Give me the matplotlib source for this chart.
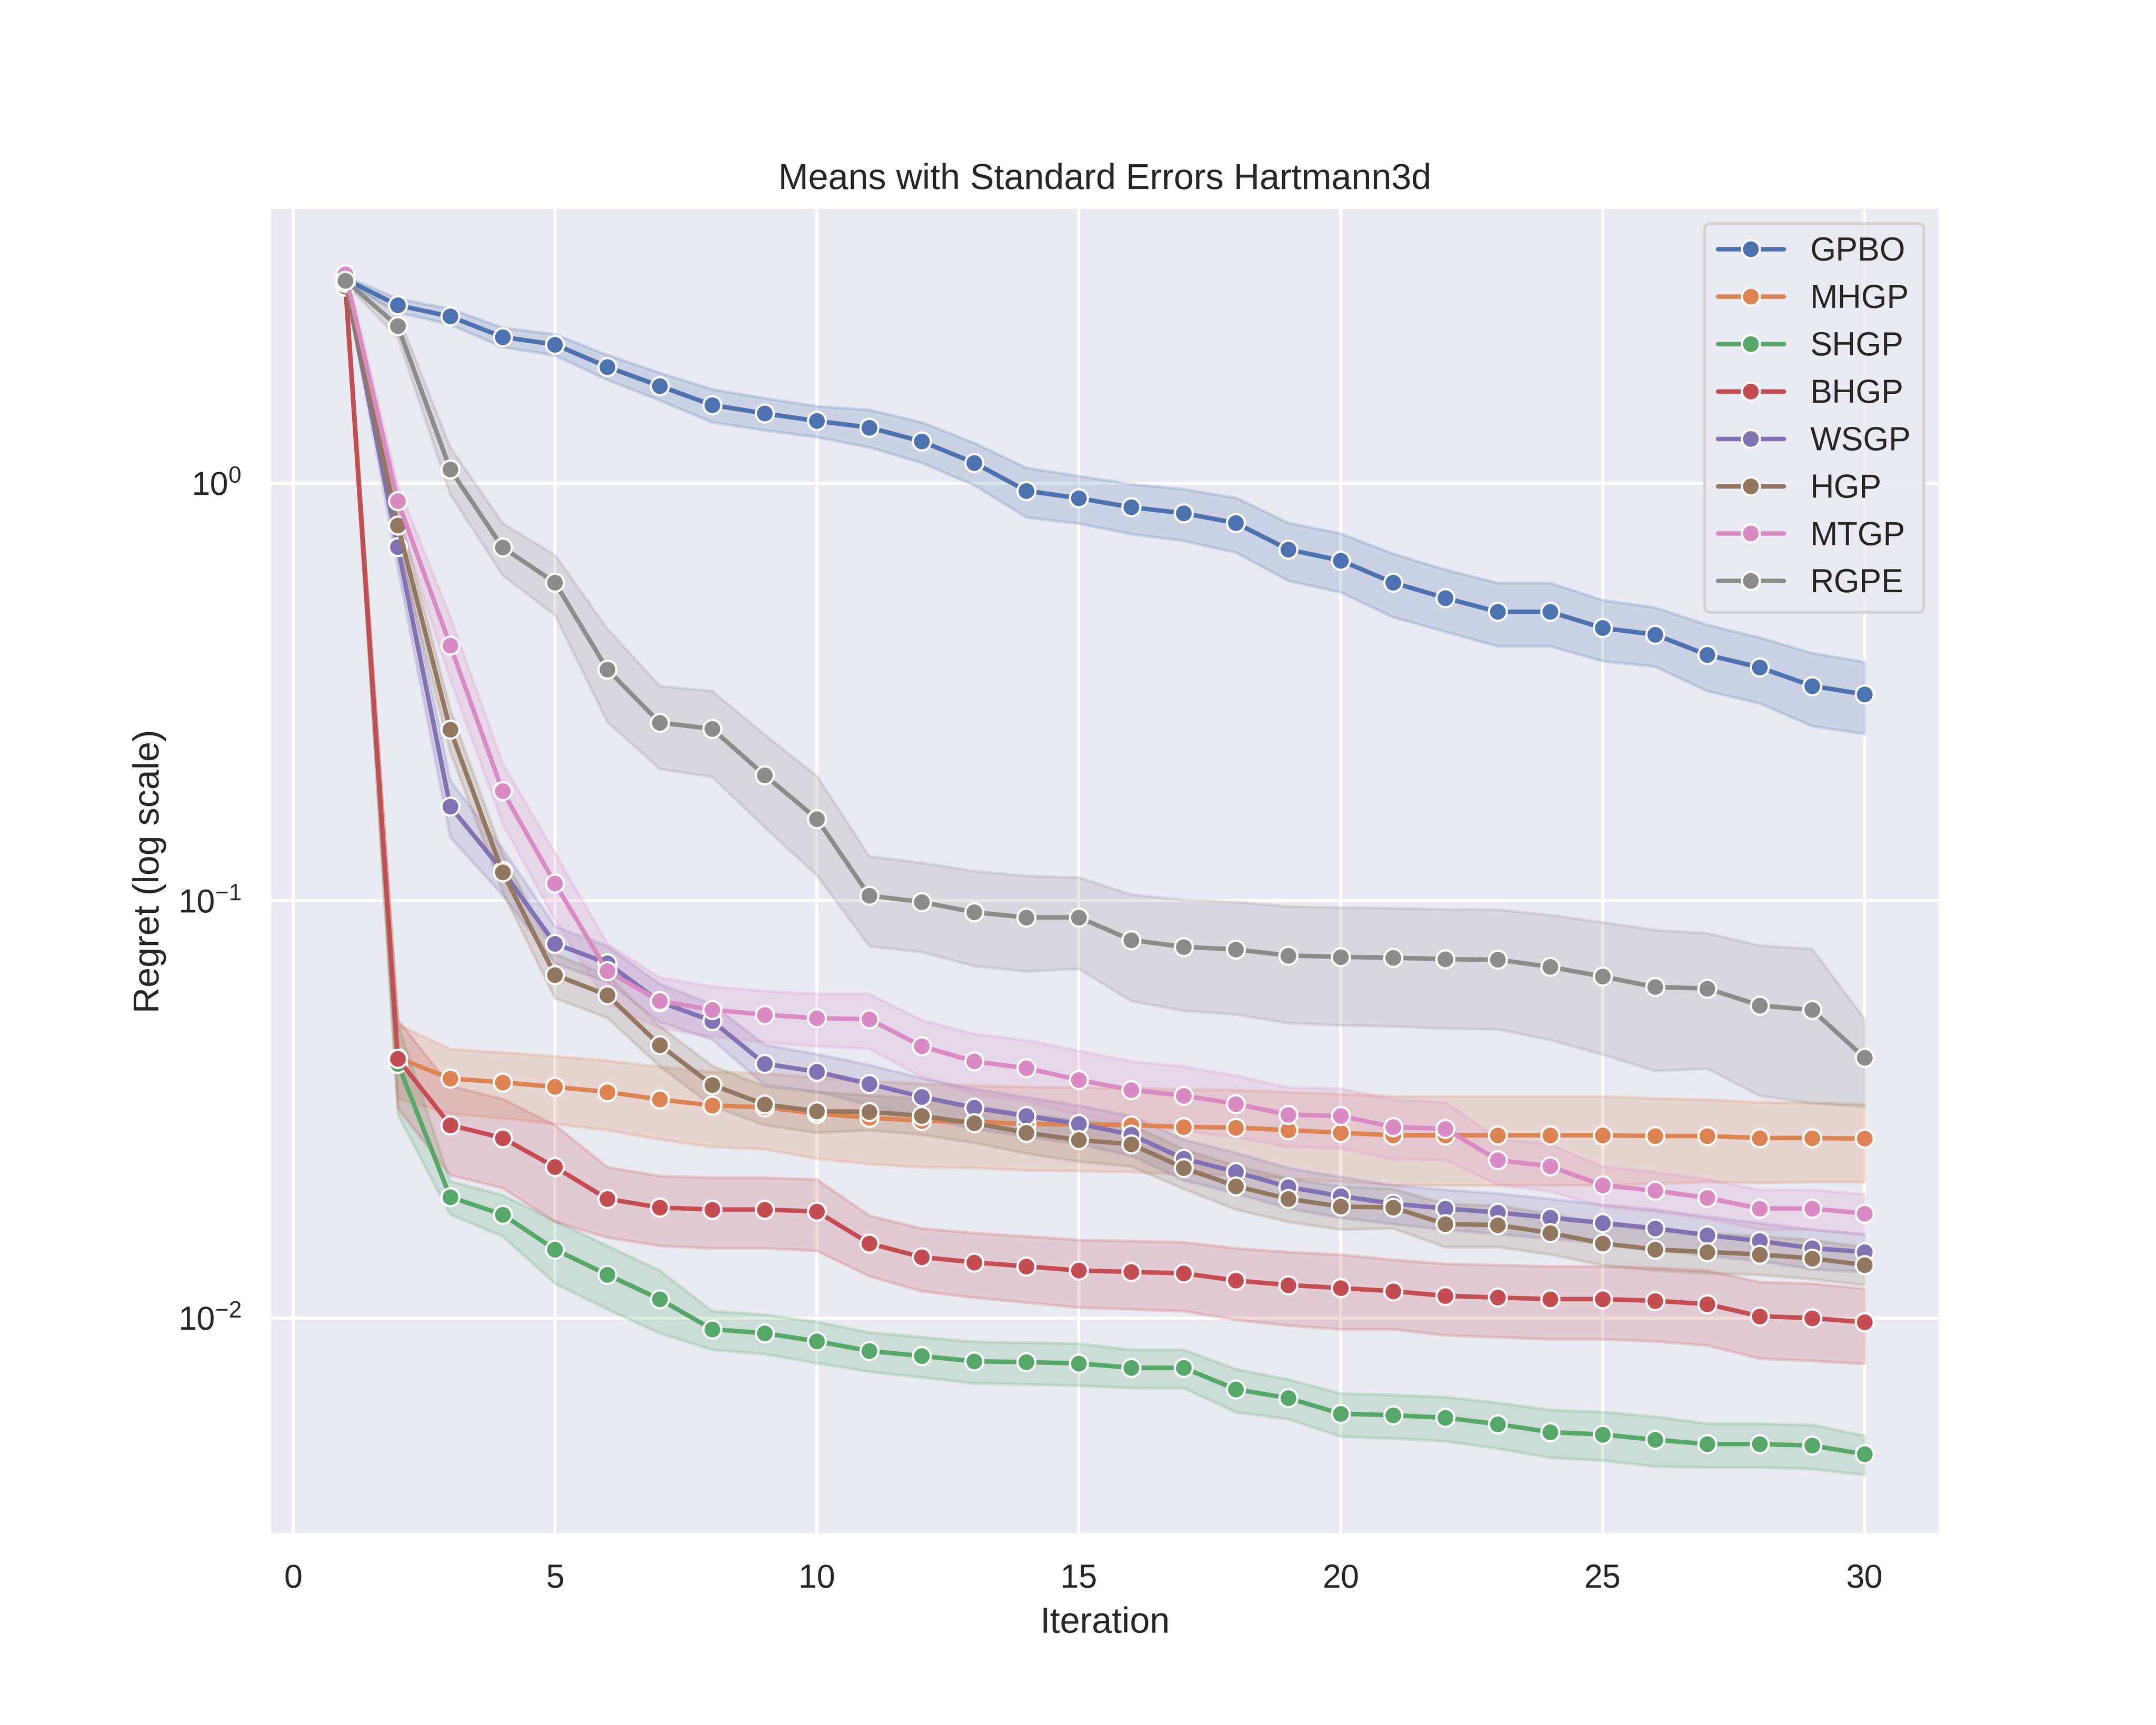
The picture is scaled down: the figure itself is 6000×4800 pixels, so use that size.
import numpy as np
import matplotlib
matplotlib.use("Agg")
import matplotlib.pyplot as plt
import seaborn as sns

# iterations and method names
iterations = list(range(1, 31))
methods = ["GPBO", "MHGP", "SHGP", "BHGP", "WSGP", "HGP", "MTGP", "RGPE"]

# mean regret per method
gpbo_mean = [3.08, 2.67, 2.51, 2.24, 2.15, 1.90, 1.71, 1.54, 1.47, 1.41,
             1.36, 1.26, 1.12, 0.959, 0.921, 0.876, 0.848, 0.803, 0.694, 0.653,
             0.578, 0.531, 0.492, 0.492, 0.450, 0.434, 0.388, 0.362, 0.327, 0.312]
mhgp_mean = [3.00, 0.0420, 0.0375, 0.0367, 0.0358, 0.0348, 0.0334, 0.0323, 0.0320, 0.0309,
             0.0302, 0.0297, 0.0295, 0.0292, 0.0291, 0.0290, 0.0287, 0.0286, 0.0282, 0.0278,
             0.0274, 0.0274, 0.0274, 0.0274, 0.0274, 0.0273, 0.0273, 0.0270, 0.0270, 0.0269]
shgp_mean = [3.00, 0.0407, 0.0195, 0.0177, 0.0146, 0.0127, 0.0111, 0.0094, 0.0092, 0.0088,
             0.00834, 0.00811, 0.00788, 0.00784, 0.00779, 0.00760, 0.00760, 0.00675, 0.00643, 0.00590,
             0.00585, 0.00577, 0.00557, 0.00533, 0.00526, 0.00511, 0.00499, 0.00499, 0.00495, 0.00472]
bhgp_mean = [2.96, 0.0418, 0.0290, 0.0270, 0.0230, 0.0193, 0.0184, 0.0182, 0.0182, 0.0180,
             0.0151, 0.0140, 0.0136, 0.0133, 0.0130, 0.0129, 0.0128, 0.0123, 0.0120, 0.0118,
             0.0116, 0.0113, 0.0112, 0.0111, 0.0111, 0.0110, 0.0108, 0.0101, 0.0100, 0.00977]
wsgp_mean = [3.03, 0.703, 0.168, 0.118, 0.0788, 0.0709, 0.0572, 0.0515, 0.0407, 0.0389,
             0.0364, 0.0339, 0.0319, 0.0305, 0.0292, 0.0275, 0.0241, 0.0224, 0.0206, 0.0196,
             0.0188, 0.0183, 0.0179, 0.0174, 0.0169, 0.0164, 0.0158, 0.0153, 0.0147, 0.0144]
hgp_mean = [3.02, 0.792, 0.257, 0.117, 0.0664, 0.0594, 0.0451, 0.0362, 0.0325, 0.0313,
            0.0312, 0.0305, 0.0293, 0.0278, 0.0267, 0.0261, 0.0229, 0.0207, 0.0193, 0.0185,
            0.0184, 0.0168, 0.0167, 0.0160, 0.0151, 0.0146, 0.0144, 0.0142, 0.0139, 0.0134]
mtgp_mean = [3.17, 0.906, 0.409, 0.183, 0.110, 0.0678, 0.0575, 0.0548, 0.0533, 0.0523,
             0.0520, 0.0448, 0.0412, 0.0397, 0.0372, 0.0352, 0.0341, 0.0326, 0.0307, 0.0305,
             0.0287, 0.0284, 0.0239, 0.0231, 0.0208, 0.0202, 0.0194, 0.0183, 0.0183, 0.0178]
rgpe_mean = [3.06, 2.38, 1.08, 0.702, 0.578, 0.358, 0.267, 0.258, 0.200, 0.157,
             0.1028, 0.0993, 0.0938, 0.0912, 0.0912, 0.0805, 0.0775, 0.0764, 0.0739, 0.0733,
             0.0730, 0.0724, 0.0722, 0.0694, 0.0658, 0.0621, 0.0616, 0.0561, 0.0547, 0.0421]

# standard errors per method
gpbo_se = [0.05, 0.10, 0.11, 0.12, 0.125, 0.13, 0.13, 0.14, 0.13, 0.12,
           0.14, 0.14, 0.13, 0.13, 0.12, 0.12, 0.12, 0.12, 0.11, 0.105,
           0.10, 0.09, 0.085, 0.085, 0.075, 0.07, 0.07, 0.065, 0.065, 0.061]
mhgp_se = [0.04, 0.0085, 0.0066, 0.0066, 0.0066, 0.0066, 0.0066, 0.0066, 0.0066, 0.0068,
           0.0068, 0.0067, 0.0066, 0.0066, 0.0066, 0.0066, 0.0066, 0.0066, 0.0066, 0.0066,
           0.0066, 0.0066, 0.0066, 0.0066, 0.0066, 0.0063, 0.0061, 0.0059, 0.0058, 0.0057]
shgp_se = [0.04, 0.010, 0.0018, 0.0020, 0.0025, 0.0022, 0.0019, 0.0010, 0.0010, 0.0010,
           0.0009, 0.0009, 0.0009, 0.0009, 0.0009, 0.0008, 0.0008, 0.0008, 0.0007, 0.0007,
           0.0007, 0.0007, 0.0007, 0.0007, 0.0007, 0.0007, 0.0006, 0.0006, 0.0006, 0.00051]
bhgp_se = [0.04, 0.010, 0.007, 0.0065, 0.006, 0.0037, 0.0035, 0.0035, 0.0035, 0.0035,
           0.0025, 0.0024, 0.0024, 0.0024, 0.0024, 0.0024, 0.0024, 0.0024, 0.0024, 0.0024,
           0.0022, 0.0022, 0.0022, 0.0022, 0.0022, 0.0022, 0.0022, 0.0021, 0.0021, 0.0020]
wsgp_se = [0.04, 0.08, 0.026, 0.015, 0.008, 0.007, 0.006, 0.005, 0.0045, 0.004,
           0.004, 0.0037, 0.0035, 0.0033, 0.0031, 0.003, 0.0027, 0.0025, 0.0023, 0.0022,
           0.002, 0.002, 0.002, 0.0019, 0.0018, 0.0018, 0.0017, 0.0016, 0.0016, 0.0015]
hgp_se = [0.04, 0.08, 0.03, 0.012, 0.008, 0.007, 0.005, 0.004, 0.0035, 0.0035,
          0.003, 0.003, 0.003, 0.003, 0.003, 0.003, 0.0025, 0.0025, 0.0023, 0.0022,
          0.002, 0.002, 0.0019, 0.0018, 0.0017, 0.0016, 0.0016, 0.0015, 0.0015, 0.0014]
mtgp_se = [0.12, 0.08, 0.07, 0.03, 0.02, 0.011, 0.008, 0.0075, 0.0075, 0.0075,
           0.0078, 0.007, 0.0068, 0.0066, 0.0065, 0.006, 0.006, 0.0055, 0.005, 0.005,
           0.0047, 0.0045, 0.003, 0.003, 0.0023, 0.0022, 0.0021, 0.002, 0.002, 0.002]
rgpe_se = [0.05, 0.15, 0.14, 0.10, 0.095, 0.09, 0.06, 0.06, 0.05, 0.042,
           0.025, 0.024, 0.024, 0.0235, 0.0225, 0.023, 0.023, 0.023, 0.023, 0.023,
           0.023, 0.023, 0.023, 0.023, 0.023, 0.023, 0.022, 0.022, 0.022, 0.010]

means = [gpbo_mean, mhgp_mean, shgp_mean, bhgp_mean, wsgp_mean, hgp_mean, mtgp_mean, rgpe_mean]
ses = [gpbo_se, mhgp_se, shgp_se, bhgp_se, wsgp_se, hgp_se, mtgp_se, rgpe_se]

sns.set_theme(style="darkgrid")
plt.rcParams['font.family'] = ['Liberation Sans', 'DejaVu Sans']

fig, ax = plt.subplots(figsize=(10, 8))
colors = sns.color_palette("deep")

for i, name in enumerate(methods):
    m = np.array(means[i])
    s = np.array(ses[i])
    ax.fill_between(iterations, m - s, m + s, color=colors[i], alpha=0.2)
    ax.plot(iterations, m, color=colors[i], marker='o', label=name,
            markeredgecolor='w', markeredgewidth=0.75)

ax.set_yscale('log')
ax.set_title("Means with Standard Errors Hartmann3d")
ax.set_xlabel("Iteration")
ax.set_ylabel("Regret (log scale)")
ax.legend(loc='upper right')

plt.savefig("out.png", dpi=600)
